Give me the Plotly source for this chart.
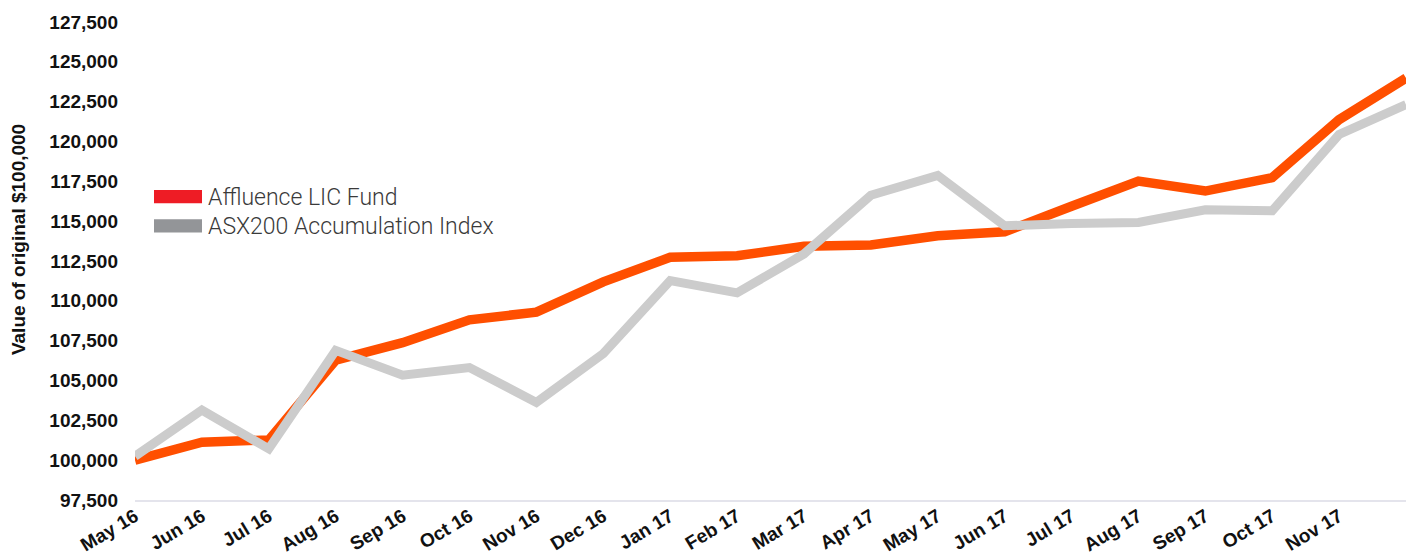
import plotly.graph_objects as go

months = ["May 16", "Jun 16", "Jul 16", "Aug 16", "Sep 16", "Oct 16", "Nov 16", "Dec 16",
          "Jan 17", "Feb 17", "Mar 17", "Apr 17", "May 17", "Jun 17", "Jul 17", "Aug 17",
          "Sep 17", "Oct 17", "Nov 17", "Dec 17"]
tick_labels = months[:-1]  # last month is at the plot edge, unlabeled

affluence = [100000, 101125, 101270, 106270, 107375, 108810, 109290, 111190, 112730, 112830,
             113420, 113500, 114080, 114330, 115940, 117520, 116890, 117730, 121375, 123980]
asx200 = [100250, 103140, 100710, 106890, 105330, 105810, 103625, 106690, 111270, 110500,
          112940, 116625, 117875, 114710, 114860, 114920, 115710, 115650, 120440, 122310]

y_ticks = list(range(97500, 127501, 2500))

x_idx = list(range(len(months)))

fig = go.Figure()
fig.add_trace(go.Scatter(x=x_idx, y=affluence, mode="lines", name="Affluence LIC Fund",
                         line=dict(color="#FF4F00", width=9.5), showlegend=False,
                         hovertext=months))
fig.add_trace(go.Scatter(x=x_idx, y=asx200, mode="lines", name="ASX200 Accumulation Index",
                         line=dict(color="#CCCCCC", width=9), showlegend=False,
                         hovertext=months))

W, H = 1406, 556
L, R, T, B = 135, 0, 22, 54
pw, ph = W - L - R, H - T - B

def px_x(px):
    return (px - L) / pw

def px_y(py):
    return (H - B - py) / ph

legend_items = [("Affluence LIC Fund", "#EE1C25", 197.3), ("ASX200 Accumulation Index", "#939598", 226.7)]
shapes = []
annotations = []
for text, color, cy in legend_items:
    shapes.append(dict(type="rect", xref="paper", yref="paper",
                       x0=px_x(154), x1=px_x(202), y0=px_y(cy + 6.7), y1=px_y(cy - 6.7),
                       fillcolor=color, line=dict(width=0)))
    annotations.append(dict(text=text, xref="paper", yref="paper", x=px_x(206), y=px_y(cy + 1),
                            xanchor="left", yanchor="middle", showarrow=False,
                            font=dict(family="Roboto", size=23, color="#3a3a3a", weight=300)))

annotations.append(dict(text="Value of original $100,000", xref="paper", yref="paper",
                        x=px_x(18), y=px_y(241), xanchor="center", yanchor="middle",
                        textangle=-90, showarrow=False,
                        font=dict(family="Liberation Sans, Arial", size=19, color="#111111", weight="bold")))

fig.update_layout(
    width=W, height=H,
    margin=dict(l=L, r=R, t=T, b=B),
    paper_bgcolor="white", plot_bgcolor="white",
    shapes=shapes, annotations=annotations,
    xaxis=dict(range=[0, len(months) - 1], tickmode="array", tickvals=x_idx[:-1], ticktext=tick_labels,
               tickangle=-31, showgrid=False, zeroline=False, showline=True, linecolor="#E4E4EC",
               linewidth=2, ticks="", fixedrange=True, ticklabelstandoff=-4,
               tickfont=dict(family="Liberation Sans, Arial", size=19, color="#111111", weight="bold")),
    yaxis=dict(range=[97500, 127500], tickmode="array", tickvals=y_ticks,
               ticktext=[f"{v:,}" for v in y_ticks], showgrid=False, zeroline=False,
               showline=False, ticks="", ticklabelstandoff=16, fixedrange=True,
               tickfont=dict(family="Liberation Sans, Arial", size=19, color="#111111", weight="bold")),
)

fig.write_html("out.html", config={"displayModeBar": False},
               post_script="document.body.style.margin='0';document.body.style.overflow='hidden';")
